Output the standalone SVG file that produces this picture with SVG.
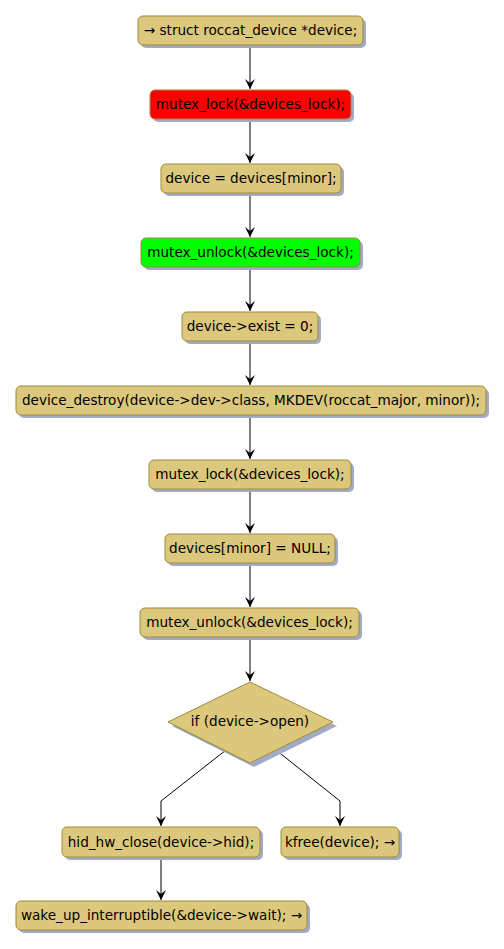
<svg xmlns="http://www.w3.org/2000/svg" width="504" height="949" viewBox="0 0 504 949">
<style>
.n{fill:#dbc87c;stroke:#9d8a3c;stroke-width:1}
.sh{fill:#a3aac4}
.t{font-family:"DejaVu Sans",sans-serif;font-size:13.6px;fill:#000;text-anchor:middle}
.c{stroke:#000;stroke-width:1;fill:none}
</style>
<defs>
<marker id="ah" markerWidth="11" markerHeight="10" refX="10" refY="5" orient="auto" markerUnits="userSpaceOnUse" viewBox="0 0 11 10">
<path d="M0,0 L10,5 L0,10 L4,5 Z" fill="#000"/>
</marker>
</defs>
<g id="connectors">
<line class="c" x1="250" y1="45" x2="250" y2="89" marker-end="url(#ah)"/>
<line class="c" x1="250" y1="119" x2="250" y2="163" marker-end="url(#ah)"/>
<line class="c" x1="250" y1="193" x2="250" y2="237" marker-end="url(#ah)"/>
<line class="c" x1="250" y1="267" x2="250" y2="311" marker-end="url(#ah)"/>
<line class="c" x1="250" y1="341" x2="250" y2="385" marker-end="url(#ah)"/>
<line class="c" x1="250" y1="415" x2="250" y2="459" marker-end="url(#ah)"/>
<line class="c" x1="250" y1="489" x2="250" y2="533" marker-end="url(#ah)"/>
<line class="c" x1="250" y1="563" x2="250" y2="607" marker-end="url(#ah)"/>
<line class="c" x1="250" y1="637" x2="250" y2="681" marker-end="url(#ah)"/>
<polyline class="c" points="226,750 161,801 161,826" marker-end="url(#ah)"/>
<polyline class="c" points="276,750 340,801 340,826" marker-end="url(#ah)"/>
<line class="c" x1="161" y1="857" x2="161" y2="900" marker-end="url(#ah)"/>
</g>
<g id="n1"><rect class="sh" x="141" y="19" width="225" height="29" rx="5"/><rect class="n" x="138" y="16" width="225" height="29" rx="5"/><text class="t" x="250.5" y="35">→ struct roccat_device *device;</text></g>
<g id="n2"><rect class="sh" x="153" y="93" width="201" height="29" rx="5"/><rect class="n" x="150" y="90" width="201" height="29" rx="5" style="fill:#ff0000"/><text class="t" x="250.5" y="109">mutex_lock(&amp;devices_lock);</text></g>
<g id="n3"><rect class="sh" x="164" y="167" width="180" height="29" rx="5"/><rect class="n" x="161" y="164" width="180" height="29" rx="5"/><text class="t" x="251" y="183">device = devices[minor];</text></g>
<g id="n4"><rect class="sh" x="144" y="241" width="219" height="29" rx="5"/><rect class="n" x="141" y="238" width="219" height="29" rx="5" style="fill:#00ff00"/><text class="t" x="250.5" y="257">mutex_unlock(&amp;devices_lock);</text></g>
<g id="n5"><rect class="sh" x="185" y="315" width="136" height="29" rx="5"/><rect class="n" x="182" y="312" width="136" height="29" rx="5"/><text class="t" x="250" y="331">device-&gt;exist = 0;</text></g>
<g id="n6"><rect class="sh" x="19" y="389" width="470" height="29" rx="5"/><rect class="n" x="16" y="386" width="470" height="29" rx="5"/><text class="t" x="251" y="405">device_destroy(device-&gt;dev-&gt;class, MKDEV(roccat_major, minor));</text></g>
<g id="n7"><rect class="sh" x="152" y="463" width="202" height="29" rx="5"/><rect class="n" x="149" y="460" width="202" height="29" rx="5"/><text class="t" x="250" y="479">mutex_lock(&amp;devices_lock);</text></g>
<g id="n8"><rect class="sh" x="168" y="537" width="170" height="29" rx="5"/><rect class="n" x="165" y="534" width="170" height="29" rx="5"/><text class="t" x="250" y="553">devices[minor] = NULL;</text></g>
<g id="n9"><rect class="sh" x="143" y="611" width="219" height="29" rx="5"/><rect class="n" x="140" y="608" width="219" height="29" rx="5"/><text class="t" x="249.5" y="627">mutex_unlock(&amp;devices_lock);</text></g>
<g id="d1"><polygon class="sh" points="254,686 337,726 254,767 172,726"/><polygon class="n" points="250,682 333,722 250,763 168,722"/><text class="t" x="250" y="726">if (device-&gt;open)</text></g>
<g id="n10"><rect class="sh" x="65" y="830" width="198" height="30" rx="5"/><rect class="n" x="62" y="827" width="198" height="30" rx="5"/><text class="t" x="161" y="847">hid_hw_close(device-&gt;hid);</text></g>
<g id="n11"><rect class="sh" x="284" y="830" width="118" height="30" rx="5"/><rect class="n" x="281" y="827" width="118" height="30" rx="5"/><text class="t" x="340" y="847">kfree(device); →</text></g>
<g id="n12"><rect class="sh" x="19" y="904" width="291" height="29" rx="5"/><rect class="n" x="16" y="901" width="291" height="29" rx="5"/><text class="t" x="161.5" y="920">wake_up_interruptible(&amp;device-&gt;wait); →</text></g>
</svg>
